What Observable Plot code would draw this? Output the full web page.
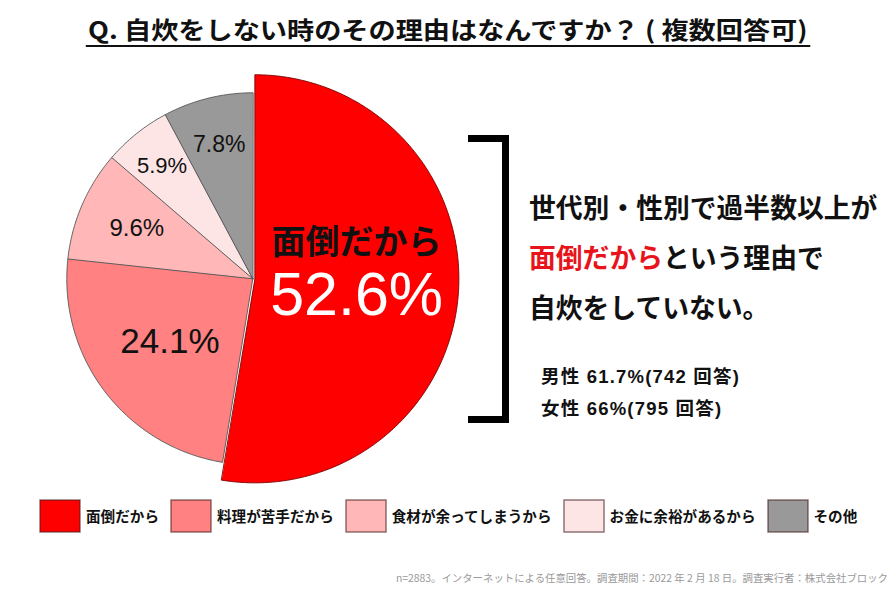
<!DOCTYPE html>
<html lang="ja">
<head>
<meta charset="utf-8">
<script src="https://cdn.jsdelivr.net/npm/d3@7"></script>
<script src="https://cdn.jsdelivr.net/npm/@observablehq/plot@0.6"></script>
<style>
  html, body { margin: 0; padding: 0; background: #fff; }
  #wrap { position: relative; width: 895px; height: 592px; overflow: hidden; font-family: "Noto Sans CJK JP", sans-serif; color: #111; }
  #chart { position: absolute; left: 0; top: 0; }
  #title { position: absolute; left: 0; top: 14px; width: 895px; text-align: center; }
  #title span { display: inline-block; font: 700 24px "Noto Sans CJK JP", sans-serif; border-bottom: 2px solid #111; padding: 0 2px 1px; line-height: 30px; transform-origin: center; white-space: nowrap; }
  #bracket { position: absolute; left: 468px; top: 135px; width: 41px; height: 288px; box-sizing: border-box; border: 7.5px solid #000; border-left: none; }
  #msg { position: absolute; left: 529px; top: 182px; font: 700 26.8px "Noto Sans CJK JP", sans-serif; line-height: 50px; white-space: nowrap; }
  #msg .red { color: #e8141b; }
  #sub { position: absolute; left: 541px; top: 361px; font: 700 18.5px "Liberation Sans", "Noto Sans CJK JP", sans-serif; line-height: 31.5px; white-space: nowrap; letter-spacing: 1.2px; }
  #legend { position: absolute; left: 40px; top: 499px; width: 860px; }
  #legend .lg-swatches { font: 700 14.6px "Noto Sans CJK JP", sans-serif; color: #111; margin: 0; }
  #legend .lg-swatch { margin-right: 12px; }
  #legend .lg-swatch > svg { margin-right: 6px; }
  #legend .lg-swatch rect { stroke: rgba(70,30,30,0.6); stroke-width: 1.5px; }
  #footer { position: absolute; right: 7px; top: 570px; font: 400 10.4px "Noto Sans CJK JP", sans-serif; color: #9a9a9a; white-space: nowrap; }
</style>
</head>
<body>
<div id="wrap">
  <div id="chart"></div>
  <div id="title"><span id="titleText">Q. 自炊をしない時のその理由はなんですか？ ( 複数回答可)</span></div>
  <div id="bracket"></div>
  <div id="msg">世代別・性別で過半数以上が<br><span class="red">面倒だから</span>という理由で<br>自炊をしていない。</div>
  <div id="sub">男性 61.7%(742 回答)<br>女性 66%(795 回答)</div>
  <div id="legend"></div>
  <div id="footer">n=2883。インターネットによる任意回答。調査期間：2022 年 2 月 18 日。調査実行者：株式会社ブロック</div>
</div>
<script>
// ---- data ----
const categories = ["面倒だから", "料理が苦手だから", "食材が余ってしまうから", "お金に余裕があるから", "その他"];
const shares = [52.6, 24.1, 9.6, 5.9, 7.8];
const shareLabels = ["52.6%", "24.1%", "9.6%", "5.9%", "7.8%"];
const sliceColors = ["#ff0000", "#ff8181", "#ffb7b7", "#fde5e5", "#999999"];

// ---- layout (styling only) ----
const radiusScale = [1.097, 1, 1, 1, 1];   // first slice drawn larger
const offsetX = [0.011, 0, 0, 0, 0];
const labelR = [0.56, 0.56, 0.68, 0.78, 0.745];
const labelSize = [61, 35, 24, 22, 23];

const total = d3.sum(shares);
let acc = 0;
const slices = shares.map((v, i) => {
  const a0 = acc / total * 2 * Math.PI; acc += v;
  const a1 = acc / total * 2 * Math.PI;
  return {i, key: categories[i], a0, a1};
});
const pts = slices.flatMap(s => {
  const n = Math.max(6, Math.ceil((s.a1 - s.a0) * 80));
  const out = [{key: s.key, x: offsetX[s.i], y: 0}];
  for (let k = 0; k <= n; k++) {
    const a = s.a0 + (s.a1 - s.a0) * k / n;
    out.push({key: s.key, x: offsetX[s.i] + radiusScale[s.i] * Math.sin(a), y: radiusScale[s.i] * Math.cos(a)});
  }
  return out;
});
const labelPts = slices.map(s => {
  const m = (s.a0 + s.a1) / 2;
  return {i: s.i, label: shareLabels[s.i], name: categories[s.i], x: labelR[s.i] * Math.sin(m), y: labelR[s.i] * Math.cos(m)};
});
const font = '"Liberation Sans", "Noto Sans CJK JP", sans-serif';

const chart = Plot.plot({
  width: 895, height: 592, margin: 0,
  style: {background: "transparent", fontFamily: font},
  x: {domain: [-1, 1], range: [66.3, 438.3], axis: null},
  y: {domain: [-1, 1], range: [464.3, 92.3], axis: null},
  color: {domain: categories, range: sliceColors},
  marks: [
    Plot.line(pts.filter(d => d.key !== categories[0]), {x: "x", y: "y", z: "key", fill: "key", stroke: "#555", strokeWidth: 0.9, curve: "linear-closed"}),
    Plot.line(pts.filter(d => d.key === categories[0]), {x: "x", y: "y", z: "key", fill: "key", stroke: "#7a0000", strokeWidth: 0.9, curve: "linear-closed"}),
    // big slice: name + share
    Plot.text(labelPts.filter(d => d.i === 0), {x: "x", y: "y", text: "name", dy: -44, fontSize: 34, fontWeight: 700, fill: "#111", fontFamily: '"Noto Sans CJK JP", sans-serif'}),
    Plot.text(labelPts.filter(d => d.i === 0), {x: "x", y: "y", text: "label", dy: 8, fontSize: labelSize[0], fill: "#fff", fontFamily: font}),
    ...labelPts.filter(d => d.i > 0).map(d =>
      Plot.text([d], {x: "x", y: "y", text: "label", fontSize: labelSize[d.i], fill: "#111", fontFamily: font}))
  ]
});
document.getElementById("chart").appendChild(chart);

const legend = chart.legend("color", {swatchWidth: 40, swatchHeight: 32, className: "lg"});
document.getElementById("legend").appendChild(legend);

// fit title to its width in the reference
const t = document.getElementById("titleText");
const w = t.getBoundingClientRect().width;
t.style.transform = `scaleX(${724 / w})`;
</script>
</body>
</html>
